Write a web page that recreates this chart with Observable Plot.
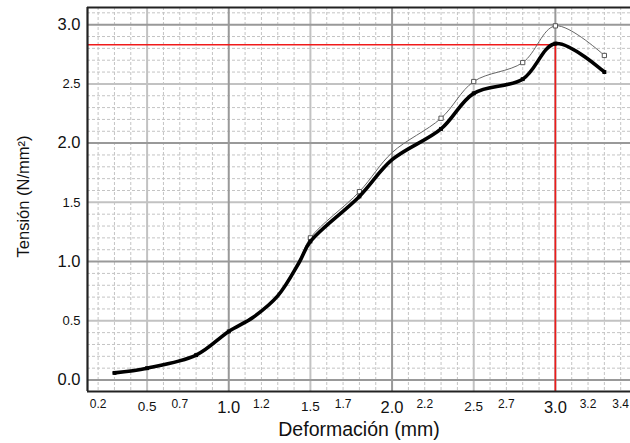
<!DOCTYPE html>
<html>
<head>
<meta charset="utf-8">
<script src="https://cdn.jsdelivr.net/npm/d3@7"></script>
<script src="https://cdn.jsdelivr.net/npm/@observablehq/plot@0.6"></script>
<style>
  html, body { margin: 0; padding: 0; background: #fff; }
  #chart svg { display: block; }
</style>
</head>
<body>
<div id="chart"></div>
<script>
// Curve shape
const curveX     = [0.3, 0.5, 0.8, 1.0, 1.15, 1.3, 1.43, 1.5, 1.8, 2.0, 2.3, 2.5, 2.8, 3.0, 3.3];
const curveMain  = [0.06, 0.10, 0.21, 0.41, 0.53, 0.71, 0.99, 1.17, 1.55, 1.86, 2.12, 2.42, 2.54, 2.84, 2.60];
const curveUpper = [0.06, 0.10, 0.21, 0.41, 0.53, 0.71, 1.00, 1.20, 1.59, 1.92, 2.21, 2.52, 2.68, 2.99, 2.74];

// Measured points (markers)
const markX     = [0.3, 0.5, 0.8, 1.0, 1.5, 1.8, 2.3, 2.5, 2.8, 3.0, 3.3];
const markMain  = [0.06, 0.10, 0.21, 0.41, 1.17, 1.55, 2.12, 2.42, 2.54, 2.84, 2.60];
const markUpper = [0.06, 0.10, 0.21, 0.41, 1.20, 1.59, 2.21, 2.52, 2.68, 2.99, 2.74];

// Reference lines
const peakX = 3.0;
const peakY = 2.83;

// Tick labels
const xTicks  = [0.2, 0.5, 0.7, 1.0, 1.2, 1.5, 1.7, 2.0, 2.2, 2.5, 2.7, 3.0, 3.2, 3.4];
const xLabels = ["0.2","0.5","0.7","1.0","1.2","1.5","1.7","2.0","2.2","2.5","2.7","3.0","3.2","3.4"];
const yTicks  = [0.0, 0.5, 1.0, 1.5, 2.0, 2.5, 3.0];
const yLabels = ["0.0","0.5","1.0","1.5","2.0","2.5","3.0"];

const xTitle = "Deformación (mm)";
const yTitle = "Tensión (N/mm²)";

const xDomain = [0.135, 3.46];
const yDomain = [-0.097, 3.145];

const curve = curveX.map((x, i) => ({x, main: curveMain[i], upper: curveUpper[i]}));
const marks = markX.map((x, i) => ({x, main: markMain[i], upper: markUpper[i]}));

const xMinor = d3.range(2, 35).map(d => d / 10);
const yMinor = d3.range(0, 32).map(d => d / 10);
const xMajor = d3.range(1, 7).map(d => d / 2);
const yMajor = d3.range(0, 7).map(d => d / 2);
const isInt = v => Math.abs(v - Math.round(v)) < 1e-9;
const isHalf = v => Math.abs(v * 2 - Math.round(v * 2)) < 1e-9;

const xTickData = xTicks.map((v, i) => ({v, label: xLabels[i]}));
const xInt   = xTickData.filter(d => isInt(d.v));
const xHalf  = xTickData.filter(d => !isInt(d.v) && isHalf(d.v));
const xOther = xTickData.filter(d => !isHalf(d.v));
const yTickData = yTicks.map((v, i) => ({v, label: yLabels[i]}));

const xLab = (data, size, dy) => Plot.text(data, {
  x: "v", text: "label", fontSize: size, frameAnchor: "bottom", lineAnchor: "middle", dy, fill: "#111"
});
const yLab = (data, size) => Plot.text(data, {
  y: "v", text: "label", fontSize: size, frameAnchor: "left", textAnchor: "end", dx: -7, fill: "#111"
});

const chart = Plot.plot({
  width: 630,
  height: 443,
  marginLeft: 87,
  marginRight: 0,
  marginTop: 7,
  marginBottom: 52,
  x: {domain: xDomain, axis: null},
  y: {domain: yDomain, axis: null},
  style: {fontFamily: "'Liberation Sans', Arial, sans-serif", background: "#fff", color: "#111"},
  marks: [
    Plot.ruleX(xMinor.filter(v => !isHalf(v)), {stroke: "#c4c4c4", strokeWidth: 1, strokeDasharray: "3,2"}),
    Plot.ruleY(yMinor.filter(v => !isHalf(v)), {stroke: "#c4c4c4", strokeWidth: 1, strokeDasharray: "3,2"}),
    Plot.ruleX(xMajor.filter(v => !isInt(v)), {stroke: "#c2c2c2", strokeWidth: 2}),
    Plot.ruleY(yMajor.filter(v => !isInt(v)), {stroke: "#c2c2c2", strokeWidth: 2}),
    Plot.ruleX(xMajor.filter(isInt), {stroke: "#999", strokeWidth: 2}),
    Plot.ruleY(yMajor.filter(isInt), {stroke: "#999", strokeWidth: 2}),
    // red reference lines
    Plot.ruleY([peakY], {x1: xDomain[0], x2: peakX, stroke: "#f01a1a", strokeWidth: 1.6}),
    Plot.ruleX([peakX], {y1: yDomain[0], y2: peakY, stroke: "#f01a1a", strokeWidth: 1.6}),
    // curves
    Plot.line(curve, {x: "x", y: "upper", curve: "catmull-rom", stroke: "#666", strokeWidth: 1}),
    Plot.dot(marks.filter(d => d.x >= 1.5), {x: "x", y: "upper", symbol: "square", r: 2.4, fill: "#fff", stroke: "#555", strokeWidth: 1}),
    Plot.line(curve, {x: "x", y: "main", curve: "catmull-rom", stroke: "#000", strokeWidth: 3.6}),
    Plot.dot(marks, {x: "x", y: "main", symbol: "square", r: 2.2, fill: "#000"}),
    // frame (left, top, bottom)
    Plot.ruleX([xDomain[0]], {stroke: "#222", strokeWidth: 2.2}),
    Plot.ruleY([yDomain[0], yDomain[1]], {stroke: "#222", strokeWidth: 2.2}),
    // tick labels
    xLab(xInt, 16.5, 16),
    xLab(xHalf, 13.5, 15.5),
    xLab(xOther, 12, 13),
    yLab(yTickData.filter(d => isInt(d.v)), 16.5),
    yLab(yTickData.filter(d => !isInt(d.v)), 13),
    // titles
    Plot.text([xTitle], {frameAnchor: "bottom", textAnchor: "middle", lineAnchor: "middle", dy: 38, fontSize: 19.5, fill: "#111"}),
    Plot.text([yTitle], {frameAnchor: "left", textAnchor: "middle", lineAnchor: "middle", rotate: -90, dx: -63.5, dy: -3, fontSize: 16.5, fill: "#111"})
  ]
});
document.getElementById("chart").append(chart);
</script>
</body>
</html>
